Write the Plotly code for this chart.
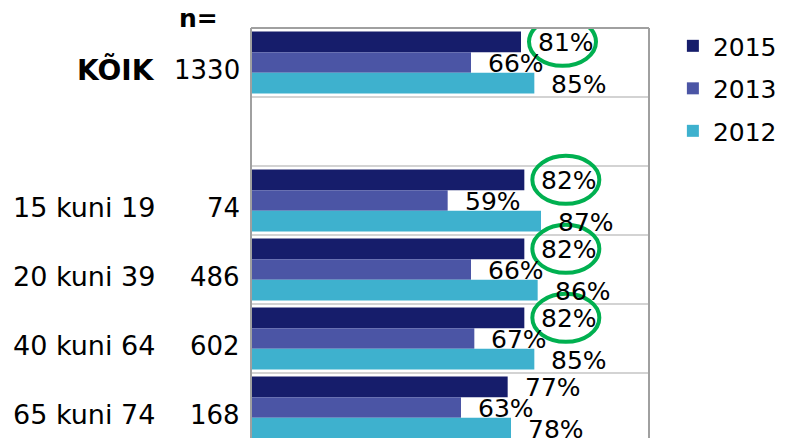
import plotly.graph_objects as go

rows = ["KÕIK", "", "15 kuni 19", "20 kuni 39", "40 kuni 64", "65 kuni 74"]
n_values = ["1330", "", "74", "486", "602", "168"]
series_names = ["2015", "2013", "2012"]
v2015 = [81, None, 82, 82, 82, 77]
v2013 = [66, None, 59, 66, 67, 63]
v2012 = [85, None, 87, 86, 85, 78]
circled_2015 = ["KÕIK", "15 kuni 19", "20 kuni 39", "40 kuni 64"]

series_values = [v2015, v2013, v2012]
colors = ["#161D6B", "#4B55A5", "#3EB1CE"]
FONT = "DejaVu Sans"
FS = 25

ypos = list(range(len(rows)))

fig = go.Figure()
for i, (name, vals) in enumerate(zip(series_names, series_values)):
    fig.add_trace(go.Bar(
        y=ypos, x=vals, name=name, orientation="h",
        marker=dict(color=colors[i], line=dict(width=0)),
        legendgroup=name, hoverinfo="x+name",
    ))

bar_w = 0.3
offsets = [-bar_w, 0, bar_w]
annotations = []
shapes = []

# value labels
for i, vals in enumerate(series_values):
    for r, v in enumerate(vals):
        if v is None:
            continue
        annotations.append(dict(
            x=v, y=ypos[r] + offsets[i], xref="x", yref="y",
            text=f"{v}%", showarrow=False, xanchor="left", yanchor="middle",
            xshift=15, yshift=-1, font=dict(family=FONT, size=FS, color="black"),
        ))

# green ellipses around selected 2015 labels
for r, name in enumerate(rows):
    if name in circled_2015:
        shapes.append(dict(
            type="circle", xref="x", yref="y",
            xsizemode="pixel", ysizemode="pixel",
            xanchor=v2015[r], yanchor=ypos[r] + offsets[0],
            x0=8, x1=75, y0=-24, y1=24,
            line=dict(color="#00B050", width=4), layer="above",
        ))

# row labels and n values
for r, name in enumerate(rows):
    if name:
        if name == "KÕIK":
            txt, fs = f"<b>{name}</b>", 28
        else:
            txt, fs = name, 27
        annotations.append(dict(
            x=-0.236, y=ypos[r], xref="paper", yref="y", text=txt,
            showarrow=False, xanchor="right", yanchor="middle", yshift=-7,
            font=dict(family=FONT, size=fs, color="black"),
        ))
    if n_values[r]:
        annotations.append(dict(
            x=-0.022, y=ypos[r], xref="paper", yref="y", text=n_values[r],
            showarrow=False, xanchor="right", yanchor="middle", yshift=-7,
            font=dict(family=FONT, size=26, color="black"),
        ))

annotations.append(dict(
    x=-0.078, y=1.022, xref="paper", yref="paper", text="<b>n=</b>",
    showarrow=False, xanchor="right", yanchor="middle",
    font=dict(family=FONT, size=FS, color="black"),
))

# gridlines between rows
for r in range(len(rows) - 1):
    shapes.append(dict(
        type="line", xref="paper", yref="y", x0=0, x1=1, y0=r + 0.5, y1=r + 0.5,
        line=dict(color="#C4C4C4", width=1.5), layer="below",
    ))
# frame (left, top, right)
for x0, y0, x1, y1 in [(0, 0, 0, 1), (0, 1, 1, 1), (1, 0, 1, 1)]:
    shapes.append(dict(
        type="line", xref="paper", yref="paper", x0=x0, y0=y0, x1=x1, y1=y1,
        line=dict(color="#A0A0A0", width=2), layer="above",
    ))

# page body has an 8px margin, so the figure is offset by 8px
fig.update_layout(
    width=779, height=430,
    margin=dict(l=243, r=138, t=20, b=0, autoexpand=False),
    paper_bgcolor="white", plot_bgcolor="white",
    barmode="group", bargap=0.1, bargroupgap=0,
    xaxis=dict(range=[0, 119.4], visible=False, fixedrange=True),
    yaxis=dict(range=[5.442, -0.5], visible=False, fixedrange=True),
    showlegend=True,
    legend=dict(
        x=1.06, y=1.012, xanchor="left", yanchor="top",
        font=dict(family=FONT, size=25, color="black"),
        traceorder="grouped", tracegroupgap=7, itemwidth=30,
        bgcolor="rgba(0,0,0,0)", borderwidth=0,
    ),
    annotations=annotations, shapes=shapes,
)

fig.write_html("out.html")
